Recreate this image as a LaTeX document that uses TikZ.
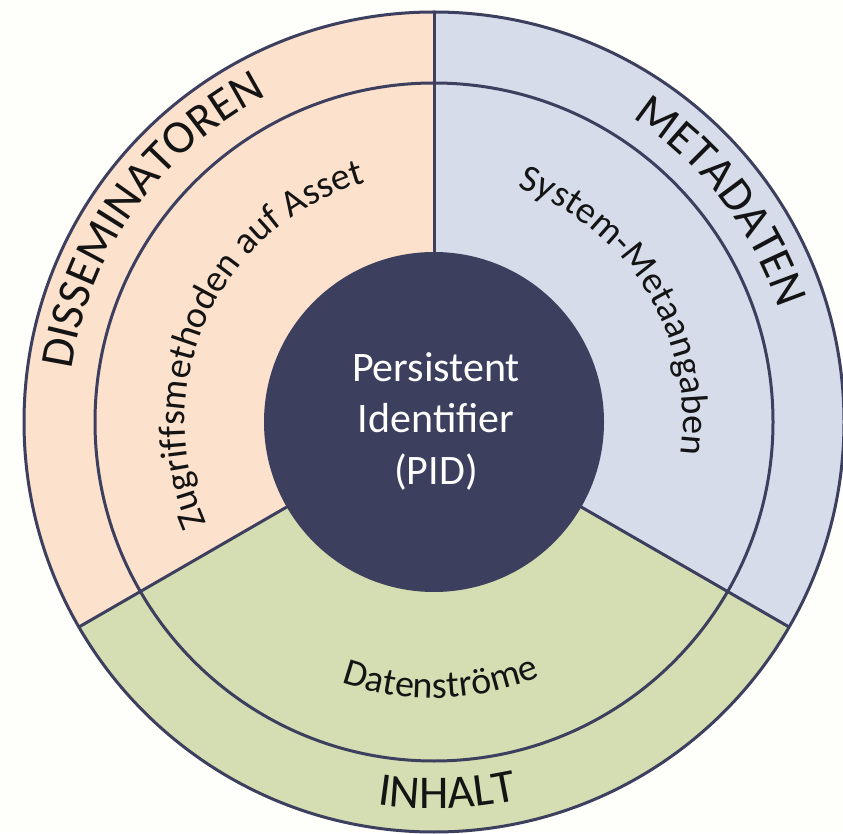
\documentclass[tikz,border=0pt]{standalone}
\usepackage{fontspec}
\setmainfont{Carlito}
\usetikzlibrary{decorations.text}
\definecolor{peach}{HTML}{FCE1CD}
\definecolor{bluegray}{HTML}{D6DCEA}
\definecolor{sage}{HTML}{D4DEB2}
\definecolor{navy}{HTML}{3D3F5E}
\definecolor{bg}{HTML}{FEFEFB}
\definecolor{ink}{HTML}{141414}
\begin{document}
\begin{tikzpicture}[x=1pt,y=1pt,
  ring/.style={draw=navy, line width=3pt},
  bigtext/.style={decorate, decoration={text along path, text align=center,
      text={|\fontsize{47}{47}\selectfont\color{ink}|#1}}},
  smalltext/.style={decorate, decoration={text along path, text align=center,
      text={|\fontsize{38}{38}\selectfont\color{ink}|#1}}},
  pidtext/.style={text=white, font=\fontsize{42}{42}\selectfont, anchor=base, inner sep=0pt}
]
\fill[bg] (0,0) rectangle (843,833);
\useasboundingbox (0,0) rectangle (843,833);
\coordinate (c) at (434,411);
% sectors
\fill[peach] (c) -- ([shift={(c)}]90:410) arc[start angle=90, end angle=210, radius=410] -- cycle;
\fill[bluegray] (c) -- ([shift={(c)}]-30:410) arc[start angle=-30, end angle=90, radius=410] -- cycle;
\fill[sage] (c) -- ([shift={(c)}]210:410) arc[start angle=210, end angle=330, radius=410] -- cycle;
% rings
\draw[ring] (c) circle[radius=339];
\draw[ring] (c) circle[radius=410];
% radial separators
\coordinate (i90) at ([shift={(c)}]90:168);
\coordinate (o90) at ([shift={(c)}]90:410);
\coordinate (i210) at ([shift={(c)}]210:168);
\coordinate (o210) at ([shift={(c)}]210:410);
\coordinate (i330) at ([shift={(c)}]330:168);
\coordinate (o330) at ([shift={(c)}]330:410);
\draw[ring] (i90) -- (o90);
\draw[ring] (i210) -- (o210);
\draw[ring] (i330) -- (o330);
% center
\fill[navy] (c) circle[radius=170];
\node[pidtext] (pid1) at (436,451) {Persistent};
\node[pidtext] (pid2) at (436,400) {Identifier};
\node[pidtext] (pid3) at (436,348) {(PID)};
% outer ring labels
\path[bigtext={DISSEMINATOREN}] ([shift={(c)}]205:366) arc[start angle=205, end angle=84, radius=366];
\path[bigtext={METADATEN}] ([shift={(c)}]82:363) arc[start angle=82, end angle=-7, radius=363];
\path[bigtext={INHALT}] ([shift={(c)}]237:387) arc[start angle=237, end angle=307, radius=387];
% middle ring labels
\path[smalltext={Zugriffsmethoden auf Asset}] ([shift={(c)}]228:249) arc[start angle=228, end angle=82, radius=249];
\path[smalltext={System-Metaangaben}] ([shift={(c)}]95:249) arc[start angle=95, end angle=-32, radius=249];
\path[smalltext={Datenströme}] ([shift={(c)}]226:276) arc[start angle=226, end angle=317, radius=276];
\end{tikzpicture}
\end{document}
